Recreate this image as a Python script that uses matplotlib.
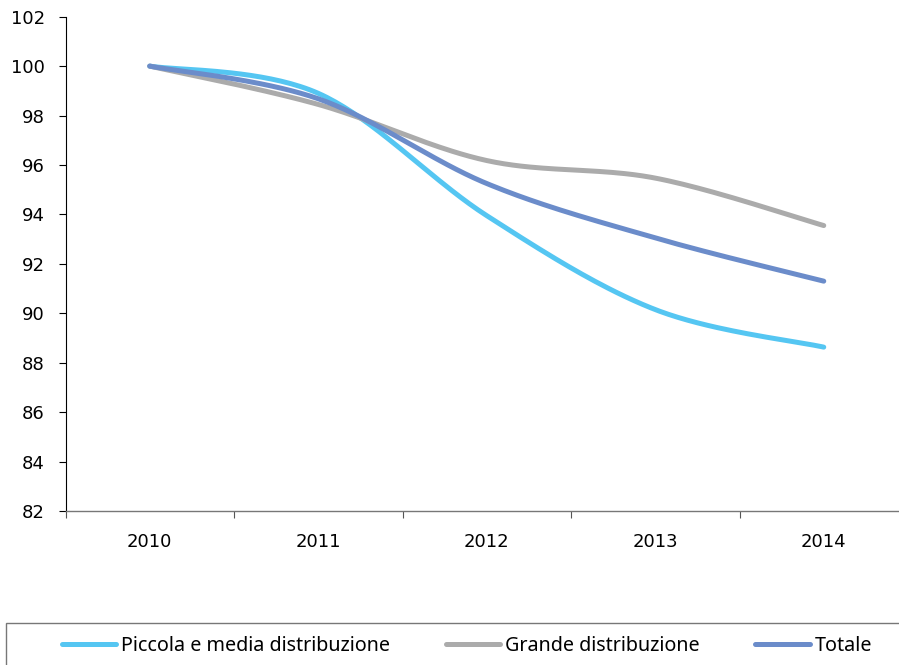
import numpy as np
import matplotlib
matplotlib.use('Agg')
import matplotlib.pyplot as plt
from matplotlib.patches import Rectangle

# Data (index 2010 = 100)
years = ['2010', '2011', '2012', '2013', '2014']
piccola = [100.0, 98.9, 93.95, 90.15, 88.63]
grande = [100.0, 98.45, 96.18, 95.47, 93.55]
totale = [100.0, 98.68, 95.25, 93.05, 91.3]

series_names = ['Piccola e media distribuzione', 'Grande distribuzione', 'Totale']
series_colors = ['#55C6F2', '#ABABAB', '#6B8CCA']


def smooth(yvals, n=40):
    """Excel-style smoothed line (Catmull-Rom Bezier) through the points."""
    x = np.arange(len(yvals), dtype=float)
    y = np.asarray(yvals, dtype=float)
    px = np.concatenate([[x[0]], x, [x[-1]]])
    py = np.concatenate([[y[0]], y, [y[-1]]])
    xs, ys = [], []
    t = np.linspace(0, 1, n)
    for i in range(len(x) - 1):
        p0x, p0y = px[i + 1], py[i + 1]
        p3x, p3y = px[i + 2], py[i + 2]
        c1x = p0x + (px[i + 2] - px[i]) / 6
        c1y = p0y + (py[i + 2] - py[i]) / 6
        c2x = p3x - (px[i + 3] - px[i + 1]) / 6
        c2y = p3y - (py[i + 3] - py[i + 1]) / 6
        b0, b1, b2, b3 = (1 - t) ** 3, 3 * t * (1 - t) ** 2, 3 * t ** 2 * (1 - t), t ** 3
        xs.append(b0 * p0x + b1 * c1x + b2 * c2x + b3 * p3x)
        ys.append(b0 * p0y + b1 * c1y + b2 * c2y + b3 * p3y)
    return np.concatenate(xs), np.concatenate(ys)


W, H = 899, 665
fig = plt.figure(figsize=(W / 100, H / 100), dpi=100)
ax = fig.add_axes([65.5 / W, 1 - 511 / H, 842.5 / W, (511 - 16.7) / H])

handles = []
for vals, name, col in zip([piccola, grande, totale], series_names, series_colors):
    sx, sy = smooth(vals)
    ln, = ax.plot(sx, sy, color=col, lw=3.6, solid_capstyle='round',
                  solid_joinstyle='round', label=name)
    handles.append(ln)

ax.set_xlim(-0.5, len(years) - 0.5)
ax.set_ylim(82, 102)
ax.set_yticks(np.arange(82, 103, 2))

# category boundaries as tick marks, labels on minor ticks
ax.set_xticks(np.arange(-0.5, len(years), 1.0))
ax.set_xticklabels([])
ax.set_xticks(range(len(years)), minor=True)
ax.set_xticklabels(years, minor=True)
ax.tick_params(axis='x', which='major', direction='out', length=5, width=0.8,
               color='#555555')
ax.tick_params(axis='x', which='minor', length=0, pad=16, labelsize=13)
ax.tick_params(axis='y', direction='out', length=5, width=0.8, pad=10,
               labelsize=13)

for s in ['top', 'right']:
    ax.spines[s].set_visible(False)
ax.spines['left'].set_color('black')
ax.spines['left'].set_linewidth(0.8)
ax.spines['bottom'].set_color('#777777')
ax.spines['bottom'].set_linewidth(1.0)

# legend box at the bottom
fig.add_artist(Rectangle((6 / W, -0.05), 1.0, 0.05 + 1 - 623 / H,
                         transform=fig.transFigure, fill=False,
                         edgecolor='#777777', lw=1.0))
leg = fig.legend(handles=handles, loc='center left', ncol=3, mode='expand',
                 bbox_to_anchor=(62 / W, 1 - 646 / H, 810 / W, 0),
                 frameon=False, borderpad=0, borderaxespad=0,
                 handlelength=2.75, handletextpad=0.25,
                 prop={'family': 'Noto Sans', 'size': 14.2})

fig.savefig('out.png', dpi=100)
